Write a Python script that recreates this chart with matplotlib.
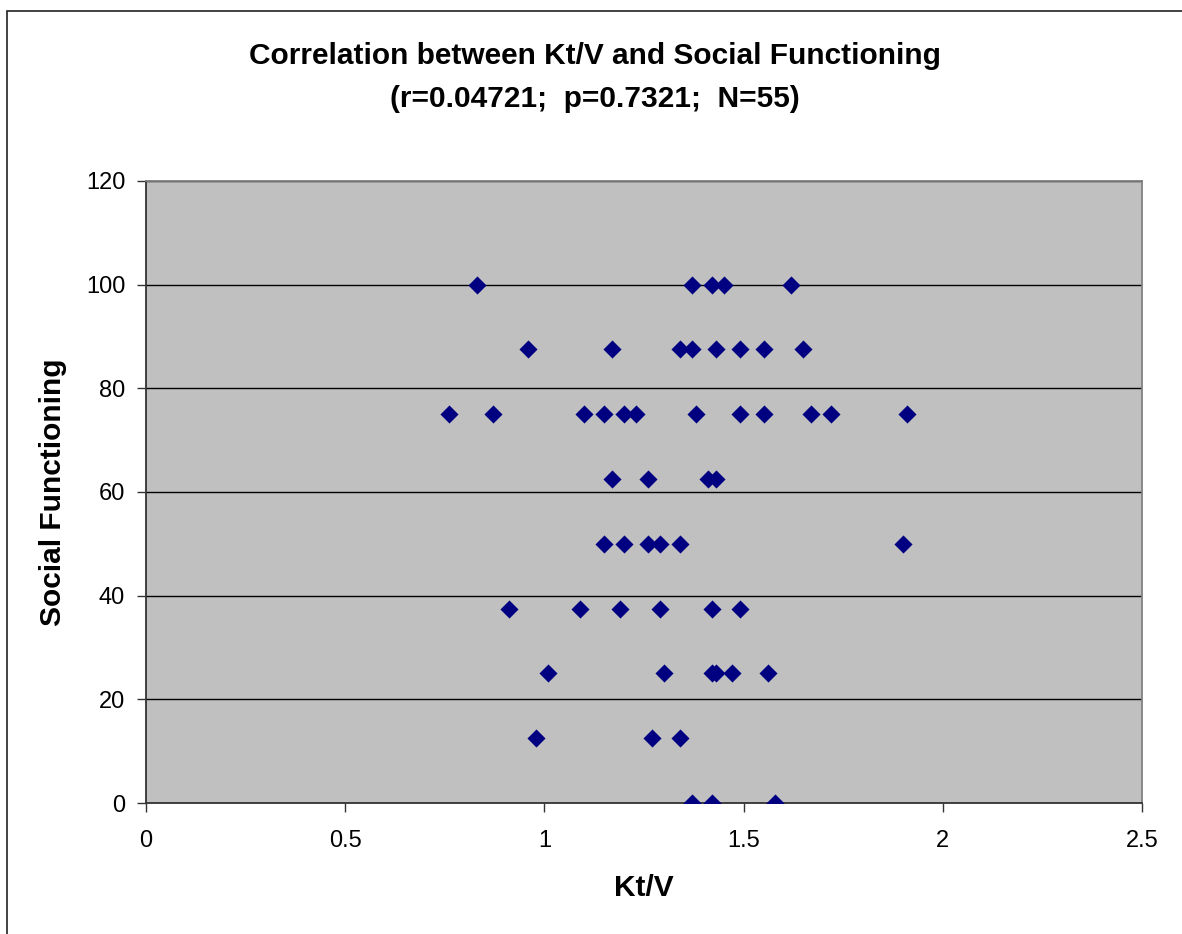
import matplotlib.pyplot as plt
import numpy as np
from matplotlib.patches import Rectangle

# Kt/V values, grouped by Social Functioning score
ktv_100 = [0.83, 1.37, 1.42, 1.45, 1.62]
ktv_875 = [0.96, 1.17, 1.34, 1.37, 1.43, 1.49, 1.55, 1.65]
ktv_75 = [0.76, 0.87, 1.10, 1.15, 1.20, 1.23, 1.38, 1.49, 1.55, 1.67, 1.72, 1.91]
ktv_625 = [1.17, 1.26, 1.41, 1.43]
ktv_50 = [1.15, 1.20, 1.26, 1.29, 1.34, 1.90]
ktv_375 = [0.91, 1.09, 1.19, 1.29, 1.42, 1.49]
ktv_25 = [1.01, 1.30, 1.42, 1.43, 1.47, 1.56]
ktv_125 = [0.98, 1.27, 1.34]
ktv_0 = [1.37, 1.42, 1.58]

groups = [(100, ktv_100), (87.5, ktv_875), (75, ktv_75), (62.5, ktv_625),
          (50, ktv_50), (37.5, ktv_375), (25, ktv_25), (12.5, ktv_125), (0, ktv_0)]
x = np.concatenate([g[1] for g in groups])
y = np.concatenate([[g[0]] * len(g[1]) for g in groups])

plt.rcParams['font.family'] = ['Liberation Sans', 'DejaVu Sans']

fig = plt.figure(figsize=(11.82, 9.34), dpi=100)
# outer chart border
fig.patches.append(Rectangle((7 / 1182, -0.1), 1.2, (934 - 11) / 934 + 0.1,
                             transform=fig.transFigure, fill=False,
                             edgecolor='#222222', linewidth=1.2))

ax = fig.add_axes([146 / 1182, 131 / 934, 996 / 1182, 622 / 934])
ax.set_facecolor('#C0C0C0')

ax.scatter(x, y, marker='D', s=85, color='#000080', zorder=3, linewidths=0)

ax.set_xlim(0, 2.5)
ax.set_ylim(0, 120)
ax.set_xticks([0, 0.5, 1, 1.5, 2, 2.5])
ax.set_xticklabels(['0', '0.5', '1', '1.5', '2', '2.5'])
ax.set_yticks(np.arange(0, 121, 20))
ax.yaxis.grid(True, color='black', linewidth=1)
ax.set_axisbelow(True)
ax.tick_params(axis='both', labelsize=17, direction='out', length=6.5, width=1, color='#333333')
ax.tick_params(axis='x', pad=13)
ax.tick_params(axis='y', pad=8.5)

for s in ['left', 'bottom']:
    ax.spines[s].set_color('#333333')
    ax.spines[s].set_linewidth(1.3)
for s in ['top', 'right']:
    ax.spines[s].set_color('#808080')
    ax.spines[s].set_linewidth(1.3)

ax.set_xlabel('Kt/V', fontsize=21.5, fontweight='bold', va='center')
ax.xaxis.set_label_coords(0.5, (803 - 888) / 622)
ax.set_ylabel('Social Functioning', fontsize=21.5, fontweight='bold', va='center')
ax.yaxis.set_label_coords((53 - 146) / 996, 0.5)

fig.text(595 / 1182, 1 - 56 / 934, 'Correlation between Kt/V and Social Functioning',
         ha='center', va='center', fontsize=21.5, fontweight='bold')
fig.text(595 / 1182, 1 - 99 / 934, '(r=0.04721;  p=0.7321;  N=55)',
         ha='center', va='center', fontsize=21.5, fontweight='bold')

plt.savefig('out.png', dpi=100)
